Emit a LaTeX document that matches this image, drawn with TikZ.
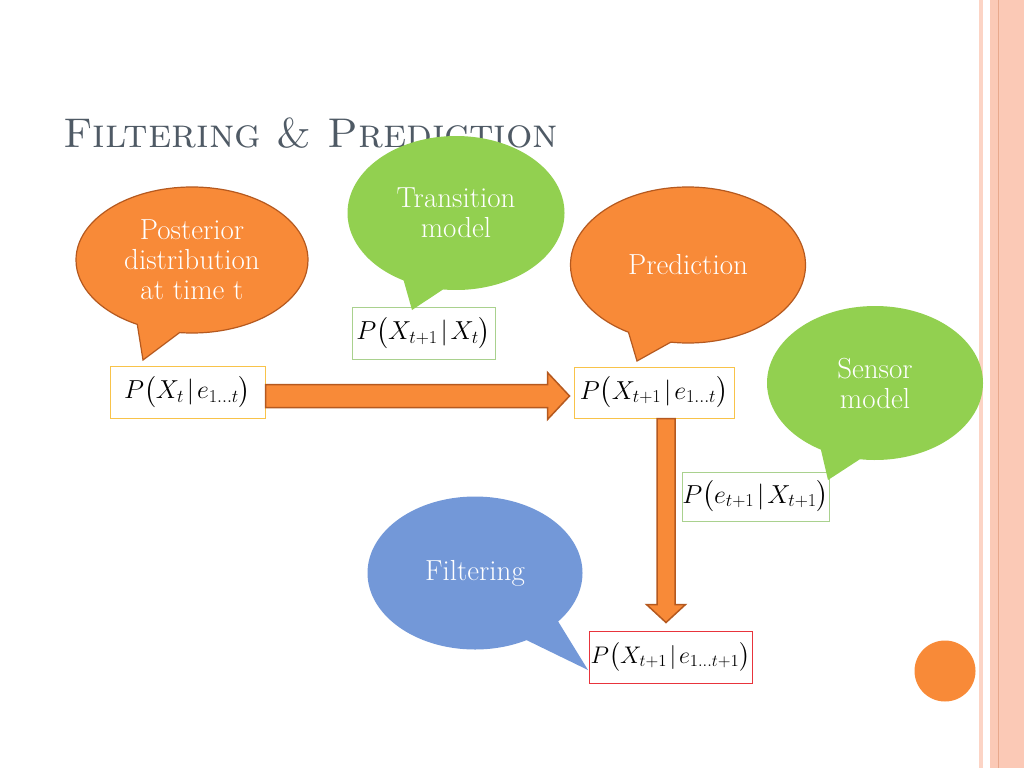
\documentclass[tikz,border=0pt]{standalone}
\usepackage{fix-cm}
\usepackage{amsmath}
\usepackage{amssymb}
\usepackage{tikz}
\usepackage{xcolor}
\usetikzlibrary{calc}
\usetikzlibrary{shapes.callouts}
\definecolor{titlecolore}{HTML}{4F5A65}
\definecolor{orangecolore}{HTML}{F88A38}
\definecolor{orangelinee}{HTML}{B5591F}
\definecolor{greencolore}{HTML}{92D050}
\definecolor{bluecolore}{HTML}{7398D8}
\definecolor{goldlinee}{HTML}{F8C34A}
\definecolor{greenlinee}{HTML}{A9D18E}
\definecolor{redlinee}{HTML}{E8343C}
\definecolor{pinkcolore}{HTML}{FBC9B6}
\definecolor{pinklinee}{HTML}{E8A88C}
\colorlet{titlecolor}{titlecolore}
\colorlet{orangecolor}{orangecolore}
\colorlet{orangeline}{orangelinee}
\colorlet{greencolor}{greencolore}
\colorlet{bluecolor}{bluecolore}
\colorlet{goldline}{goldlinee}
\colorlet{greenline}{greenlinee}
\colorlet{redline}{redlinee}
\colorlet{pinkcolor}{pinkcolore}
\colorlet{pinkline}{pinklinee}
\newcommand{\given}{\mkern2mu|\mkern2mu}
\tikzstyle{bubble} =[
    ellipse callout,
    callout pointer arc=22,
    text=white,
    align=center,
    inner sep=0pt,
    font=\fontsize{29}{30}\selectfont
    ]
\tikzstyle{formulabox} = [
    draw,
    fill=white,
    rectangle,
    line width=1pt,
    inner sep=0pt,
    font=\fontsize{26}{30}\selectfont
    ]
\tikzstyle{blockarrow} = [
    draw=orangeline,
    fill=orangecolor,
    line width=1.5pt,
    line join=miter
    ]

\begin{document}
\begin{tikzpicture}[x=1pt,y=-1pt]
\useasboundingbox (0,0) rectangle (1024,768);
\fill[white] (0,0) rectangle (1024,768);
% side border
\fill[pinkcolor!80!white] (979,0) rectangle (983,768);
\fill[pinkcolor] (990,0) rectangle (1024,768);
\draw[pinkline, line width=1pt] (998,0) -- (998,768);

\node[anchor=base west, inner sep=0pt, text=titlecolor,
    font=\fontsize{41.5}{50}\selectfont] (title) at (63,147) {\textsc{Filtering \& Prediction}};

% formulas
\node[formulabox, draw=goldline, minimum width=155pt, minimum height=52pt] (post) at (187.5,392)
    {$P\big(X_t \given e_{1...t}\big)$};
\node[formulabox, draw=greenline, minimum width=143pt, minimum height=52pt] (trans) at (423.5,333)
    {$P\big(X_{t+1} \given X_t\big)$};
\node[formulabox, draw=goldline, minimum width=160pt, minimum height=51pt] (pred) at (654,392.5)
    {$P\big(X_{t+1} \given e_{1...t}\big)$};
\node[formulabox, draw=greenline, minimum width=147pt, minimum height=49pt] (sens) at (755.5,496.5)
    {$P\big(e_{t+1} \given X_{t+1}\big)$};
\node[formulabox, draw=redline, minimum width=163pt, minimum height=52pt,
    font=\fontsize{24}{30}\selectfont] (filt) at (670.5,657)
    {$P\big(X_{t+1} \given e_{1...t+1}\big)$};

% block arrows
\draw[blockarrow] let \p1=(post.east), \p2=(pred.west) in
    (\x1,\y1+7.5pt) -- (\x2-26pt,\y1+7.5pt) -- (\x2-26pt,\y1+19.5pt) -- (\x2-4pt,\y1-4pt)
    -- (\x2-26pt,\y1-27.5pt) -- (\x2-26pt,\y1-15.5pt) -- (\x1,\y1-15.5pt) -- cycle;
\draw[blockarrow] let \p1=(pred.south), \p2=(filt.north) in
    (\x1+3pt,\y1) -- (\x1+3pt,\y2+26pt) -- (\x1-7.5pt,\y2+26pt) -- (\x1+12pt,\y2+8pt)
    -- (\x1+31.5pt,\y2+26pt) -- (\x1+21pt,\y2+26pt) -- (\x1+21pt,\y1) -- cycle;

% bubbles
\coordinate (posttip) at (143,360);
\coordinate (transtip) at (412,310);
\coordinate (predtip) at (637,361);
\coordinate (senstip) at (828,480);
\coordinate (filttip) at (588,670);
\node[bubble, fill=orangecolor, draw=orangeline, line width=1.2pt, minimum width=232pt, minimum height=146pt,
    callout absolute pointer=(posttip)] (postbubble) at (192,260) {Posterior\\distribution\\at time t};
\node[bubble, fill=greencolor, minimum width=217pt, minimum height=154pt,
    callout absolute pointer=(transtip)] (transbubble) at (456,213) {Transition\\model};
\node[bubble, fill=orangecolor, draw=orangeline, line width=1.2pt, minimum width=235pt, minimum height=156pt,
    callout absolute pointer=(predtip)] (predbubble) at (688,265) {Prediction};
\node[bubble, fill=greencolor, minimum width=216pt, minimum height=154pt,
    callout absolute pointer=(senstip)] (sensbubble) at (875,383) {Sensor\\model};
\node[bubble, fill=bluecolor, minimum width=215pt, minimum height=153pt,
    callout absolute pointer=(filttip)] (filtbubble) at (475,573) {Filtering};

\node[circle, fill=orangecolor, inner sep=0pt, minimum size=61pt] (dot) at (945,671) {};
\end{tikzpicture}
\end{document}
